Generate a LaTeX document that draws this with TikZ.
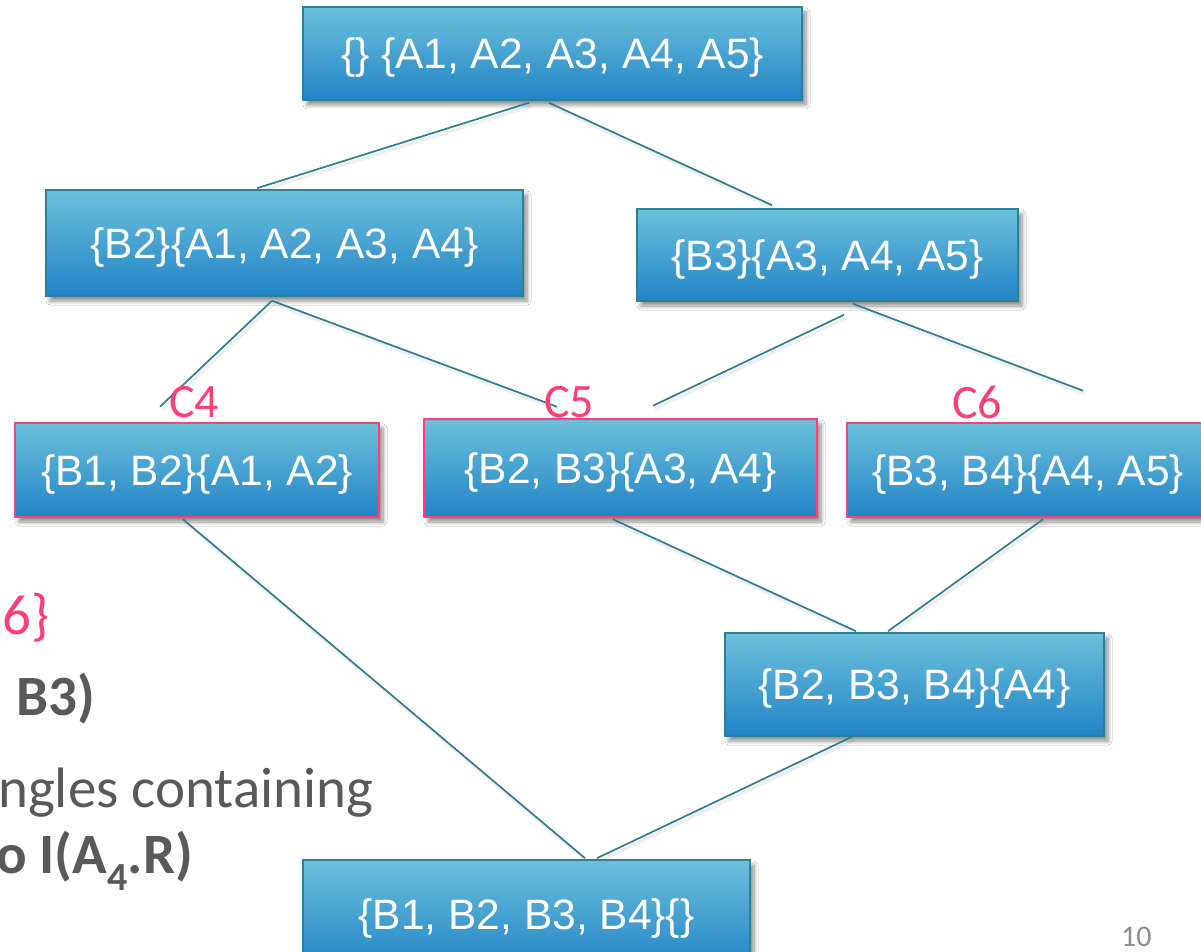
\documentclass[tikz,border=0pt]{standalone}
\usepackage{fontspec}
\setmainfont{Carlito}
\newfontfamily\boxfamily{Liberation Sans}
\usetikzlibrary{calc,shadows.blur}

\definecolor{boxtop}{HTML}{6CC0DB}
\definecolor{boxbot}{HTML}{2284C6}
\definecolor{boxline}{HTML}{2F8097}
\definecolor{hot}{HTML}{FF3D77}
\definecolor{linkcol}{HTML}{2E7E92}
\definecolor{bodygray}{HTML}{595959}
\definecolor{pagegray}{HTML}{8C8C8C}

\tikzset{
  lattice/.style={rectangle, draw=boxline, line width=1.6pt,
    top color=boxtop, bottom color=boxbot, text=white,
    font=\boxfamily\fontsize{42.5}{46}\selectfont, inner sep=0pt,
    text height=30.5pt, text depth=-3pt,
    blur shadow={shadow xshift=4pt, shadow yshift=-5pt,
      shadow blur radius=4pt, shadow blur steps=8, shadow opacity=45}},
  chosen/.style={lattice, draw=hot, line width=2.6pt},
  tag/.style={text=hot, font=\fontsize{48}{52}\selectfont, anchor=base west, inner sep=0pt},
  link/.style={draw=linkcol, line width=1.7pt,
    preaction={draw=black!60, draw opacity=0.10, line width=3.5pt,
      transform canvas={shift={(2pt,-3pt)}}}},
  slidetext/.style={anchor=base west, inner sep=0pt, text=bodygray,
    font=\fontsize{57}{62}\selectfont}
}

\begin{document}
\begin{tikzpicture}[x=1pt,y=-1pt]
\useasboundingbox (0,0) rectangle (1201,952);
\clip (0,0) rectangle (1201,952);
\fill[white] (0,0) rectangle (1201,952);

% text of the slide, running off the left edge
\node[slidetext, text=hot] (t1) at (2,634) {6\}};
\node[slidetext, font=\fontsize{57}{62}\selectfont\bfseries] (t2) at (16,715) {B3)};
\node[slidetext] (t3) at (-2,807) {ngles containing};
\node[slidetext, font=\fontsize{57}{62}\selectfont\bfseries] (t4) at (-4,873) {o I(A$_{\mathbf{4}}$.R)};
\node[anchor=base west, inner sep=0pt, text=pagegray, font=\fontsize{30}{32}\selectfont] (pg) at (1121,946) {10};

% lattice nodes
\node[lattice, minimum width=499pt, minimum height=93pt] (top) at (552.5,53.5) {\{\} \{A1, A2, A3, A4, A5\}};
\node[lattice, minimum width=477pt, minimum height=106pt] (b2) at (284.5,243) {\{B2\}\{A1, A2, A3, A4\}};
\node[lattice, minimum width=381pt, minimum height=92pt] (b3) at (827.5,255) {\{B3\}\{A3, A4, A5\}};
\node[chosen, minimum width=364pt, minimum height=94pt] (c4) at (197,470) {\{B1, B2\}\{A1, A2\}};
\node[chosen, minimum width=393pt, minimum height=98pt] (c5) at (620.5,468) {\{B2, B3\}\{A3, A4\}};
\node[chosen, minimum width=362pt, minimum height=94pt] (c6) at (1028,470) {\{B3, B4\}\{A4, A5\}};
\node[lattice, minimum width=379pt, minimum height=103pt] (b234) at (914.5,684.5) {\{B2, B3, B4\}\{A4\}};
\node[lattice, minimum width=447pt, minimum height=108pt] (bot) at (526.5,914) {\{B1, B2, B3, B4\}\{\}};

% edges of the lattice
\draw[link] ($(top.south)+(-23.5,2)$) -- ($(b2.north)+(-27.5,-1)$);
\draw[link] ($(top.south)+(-3.5,2)$) -- ($(b3.north)+(-55.5,-3)$);
\draw[link] ($(b2.south)+(-12.5,4)$) -- ($(c4.north)+(-37,-15)$);
\draw[link] ($(b2.south)+(-12.5,4)$) -- ($(c5.north)+(-63.5,-11)$);
\draw[link] ($(b3.south)+(16.5,13)$) -- ($(c5.north)+(32.5,-12)$);
\draw[link] ($(b3.south)+(25.5,2)$) -- ($(c6.north)+(55,-31)$);
\draw[link] ($(c4.south)+(-14,1)$) -- ($(bot.north)+(58.5,-1)$);
\draw[link] ($(c5.south)+(-7.5,1)$) -- ($(b234.north)+(-58.5,-1)$);
\draw[link] ($(c6.south)+(15,1)$) -- ($(b234.north)+(-26.5,-1)$);
\draw[link] ($(b234.south)+(-62.5,0)$) -- ($(bot.north)+(70.5,-1)$);

% concept labels
\node[tag] (l4) at (169,417) {C4};
\node[tag] (l5) at (544,417) {C5};
\node[tag] (l6) at (952,418) {C6};
\end{tikzpicture}
\end{document}
